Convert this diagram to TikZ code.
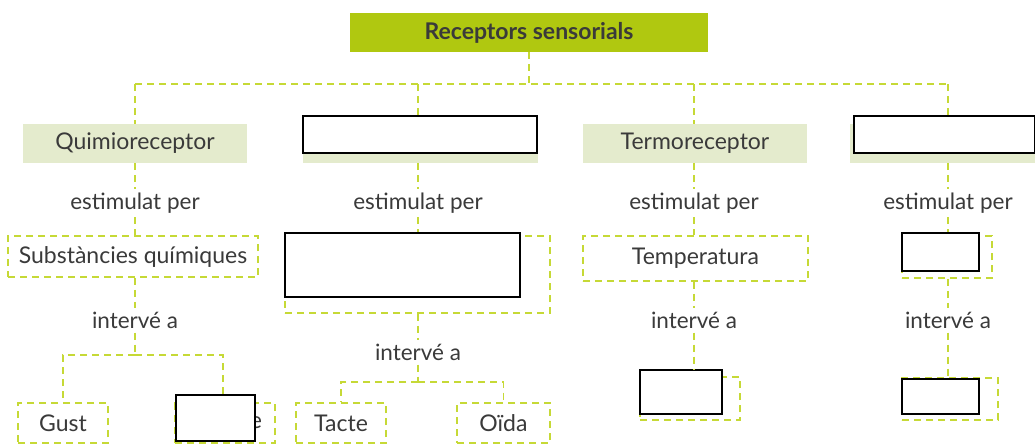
\documentclass[tikz,border=0pt]{standalone}
\usepackage{fontspec}
\setmainfont{Lato}
\definecolor{lime}{HTML}{B0C810}
\definecolor{pale}{HTML}{E4EBCD}
\definecolor{dashc}{HTML}{C6D936}
\definecolor{txt}{HTML}{3A3A3A}
\tikzset{
  conn/.style={draw=dashc, line width=1.6pt, dash pattern=on 7pt off 5pt},
  dbox/.style={draw=dashc, line width=1.6pt, dash pattern=on 7pt off 5pt, rectangle, inner sep=0pt, text=txt, font=\fontsize{23}{25}\selectfont},
  gbox/.style={fill=pale, rectangle, inner sep=0pt, text=txt, font=\fontsize{23}{25}\selectfont},
  topbox/.style={fill=lime, rectangle, inner sep=0pt, text=txt, font=\fontsize{23}{25}\selectfont\bfseries},
  blank/.style={draw=black, fill=white, line width=1.3pt, rectangle, inner sep=0pt},
  lbl/.style={text=txt, inner sep=4pt, font=\fontsize{22.5}{25}\selectfont},
}
\begin{document}
\begin{tikzpicture}[x=1pt,y=-1pt]
\useasboundingbox[fill=white] (0,0) rectangle (1035,444);

% top node
\node[topbox, minimum width=358pt, minimum height=39pt] (top) at (529,32.5) {Receptors sensorials};

% row 2
\node[gbox, minimum width=224pt, minimum height=39pt] (q) at (135,143.5) {Quimioreceptor};
\node[gbox, minimum width=235pt, minimum height=39pt] (m) at (420.5,143.5) {};
\node[gbox, minimum width=224pt, minimum height=39pt] (t) at (695,143.5) {Termoreceptor};
\node[gbox, minimum width=200pt, minimum height=39pt] (f) at (950,143.5) {};

% bus
\coordinate (busL) at (135,84);
\coordinate (busR) at (948,84);
\coordinate (busM) at (418,84);
\coordinate (busT) at (694,84);
\draw[conn] (top.south) -- (top.south |- busL);
\draw[conn] (busL) -- (busR);
\draw[conn] (busL) -- (q.north);
\draw[conn] (busM) -- (busM |- m.north);
\draw[conn] (busT) -- (busT |- t.north);
\draw[conn] (busR) -- (busR |- f.north);

% estimulat per
\node[lbl] (e1) at (135,203) {estimulat per};
\node[lbl] (e2) at (418,203) {estimulat per};
\node[lbl] (e3) at (694,203) {estimulat per};
\node[lbl] (e4) at (948,203) {estimulat per};

% row 3
\node[dbox, minimum width=250pt, minimum height=41pt] (s) at (133,256.5) {Substàncies químiques};
\node[dbox, minimum width=265pt, minimum height=77pt] (m3) at (417.5,274.5) {};
\node[dbox, minimum width=225pt, minimum height=45pt] (tp) at (695.5,258.5) {Temperatura};
\node[dbox, minimum width=90pt, minimum height=42pt] (f3) at (947,257) {};

\draw[conn] (q.south) -- (e1.north);
\draw[conn] (e1.south) -- (e1.south |- s.north);
\draw[conn] (m.south -| e2) -- (e2.north);
\draw[conn] (e2.south) -- (e2.south |- m3.north);
\draw[conn] (t.south -| e3) -- (e3.north);
\draw[conn] (e3.south) -- (e3.south |- tp.north);
\draw[conn] (f.south -| e4) -- (e4.north);
\draw[conn] (e4.south) -- (e4.south |- f3.north);

% intervé a
\node[lbl] (i1) at (135,320) {intervé a};
\node[lbl] (i2) at (418,352) {intervé a};
\node[lbl] (i3) at (694,320) {intervé a};
\node[lbl] (i4) at (948,320) {intervé a};

\draw[conn] (s.south -| i1) -- (i1.north);
\draw[conn] (m3.south -| i2) -- (i2.north);
\draw[conn] (tp.south -| i3) -- (i3.north);
\draw[conn] (f3.south -| i4) -- (i4.north);

% row 4
\node[dbox, minimum width=90pt, minimum height=40pt] (gust) at (63,423) {Gust};
\node[dbox, minimum width=100pt, minimum height=40pt] (olf) at (225,423) {\hspace*{62pt}e};
\node[dbox, minimum width=90pt, minimum height=40pt] (tac) at (341,423) {Tacte};
\node[dbox, minimum width=93pt, minimum height=40pt] (oid) at (503.5,423) {Oïda};
\node[dbox, minimum width=100pt, minimum height=43pt] (r3) at (690,398.5) {};
\node[dbox, minimum width=96pt, minimum height=42pt] (r4) at (950,399) {};

\coordinate (sp1) at (135,355);
\coordinate (sp2) at (418,382);
\draw[conn] (i1.south) -- (sp1);
\draw[conn] (sp1) -| (gust.north);
\draw[conn] (sp1) -| (olf.north -| 223,0);
\draw[conn] (i2.south) -- (sp2);
\draw[conn] (sp2) -| (tac.north);
\draw[conn] (sp2) -| (oid.north);

% white cover boxes
\node[blank, minimum width=234pt, minimum height=37pt] (w1) at (420,134.5) {};
\node[blank, minimum width=181pt, minimum height=37pt] (w2) at (944.5,134.5) {};
\node[blank, minimum width=235pt, minimum height=64pt] (w3) at (402.5,265) {};
\node[blank, minimum width=77pt, minimum height=38pt] (w4) at (940.5,252) {};
\node[blank, minimum width=79pt, minimum height=46pt] (w5) at (215.5,418) {};
\node[blank, minimum width=82pt, minimum height=44pt] (w6) at (681,392) {};
\node[blank, minimum width=77pt, minimum height=35pt] (w7) at (940.5,396.5) {};

\draw[conn] (i3.south) -- (i3.south |- w6.north);
\draw[conn] (i4.south) -- (i4.south |- w7.north);
\end{tikzpicture}
\end{document}
